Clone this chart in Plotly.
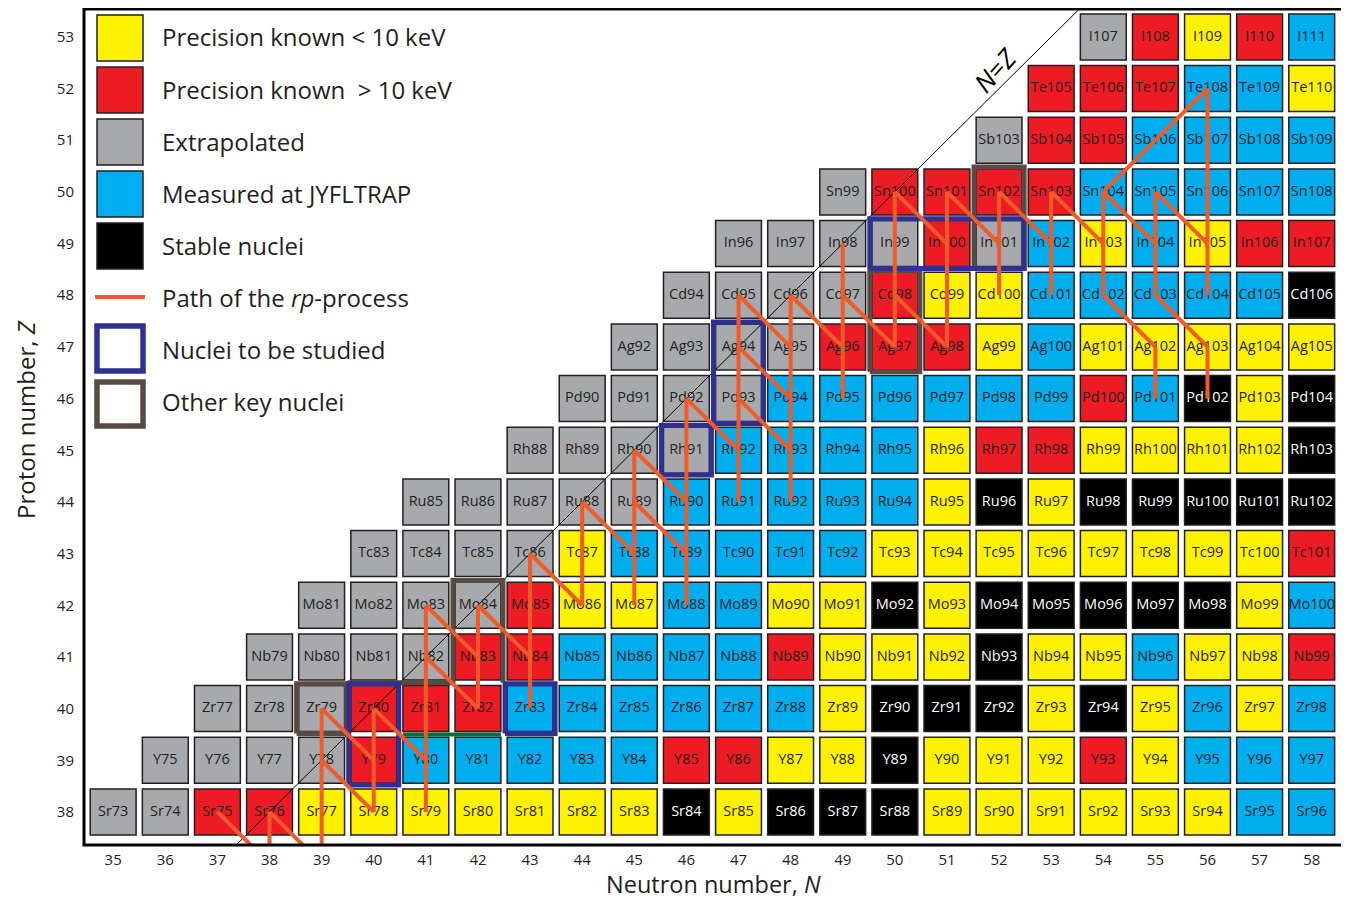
import plotly.graph_objects as go

# ---------------- data ----------------
ELEMENTS = ["Sr", "Y", "Zr", "Nb", "Mo", "Tc", "Ru", "Rh", "Pd", "Ag", "Cd", "In", "Sn", "Sb", "Te", "I"]
Z_VALUES = list(range(38, 54))
FIRST_N = [35, 36, 37, 38, 39, 40, 41, 43, 44, 45, 46, 47, 49, 52, 53, 54]
# Y = precision < 10 keV, R = precision > 10 keV, G = extrapolated, B = measured at JYFLTRAP, K = stable
STATUS = [
    "GGRRYYYYYYYKYKKKYYYYYYBB",   # Sr
    "GGGGRBBBBBRRYYKYYYRYBBB",    # Y
    "GGGRRRBBBBBBYKKKYKYBYB",     # Zr
    "GGGGRRBBBBRYYYKYYBYYR",      # Nb
    "GGGGRYYBBYYKYKKKKKYB",       # Mo
    "GGGGYBBBBBYYYYYYYYR",        # Tc
    "GGGGGBBBBBYKYKKKKK",         # Ru
    "GGGGBBBBYRRYYYYK",           # Rh
    "GGGGBBBBBBRBKYK",            # Pd
    "GGGGRRRYBYYYYY",             # Ag
    "GGGGRYYBBBBBK",              # Cd
    "GGGGRGBYBYRR",               # In
    "GRRRRBBBBB",                 # Sn
    "GRRBBBB",                    # Sb
    "RRRBBY",                     # Te
    "GRYRB",                      # I
]
N_TICKS = list(range(35, 59))
Z_TICKS = list(range(38, 54))

# rp-process path: segments (N1, Z1, N2, Z2)
RP_PATH = [
    (37, 38, 38, 37), (38, 37, 38, 38), (38, 38, 39, 37), (39, 37, 39, 40),
    (39, 39, 40, 38), (39, 40, 40, 39), (40, 38, 40, 40), (40, 40, 41, 39),
    (41, 38, 41, 42), (41, 42, 42, 41), (41, 41, 42, 40), (42, 40, 42, 42),
    (42, 42, 43, 41), (43, 40, 43, 43), (43, 43, 44, 42), (44, 42, 44, 44),
    (44, 44, 45, 43), (45, 42, 45, 45), (45, 44, 46, 43), (45, 45, 46, 44),
    (46, 42, 46, 46), (46, 46, 47, 45), (47, 44, 47, 48), (47, 47, 48, 46),
    (47, 46, 48, 45), (47, 48, 48, 47), (48, 44, 48, 48), (48, 48, 49, 47),
    (49, 46, 49, 49), (49, 48, 50, 47), (50, 47, 50, 50), (50, 48, 51, 47),
    (50, 50, 51, 49), (51, 47, 51, 50), (51, 50, 52, 49), (52, 48, 52, 50),
    (52, 50, 53, 49), (53, 48, 53, 50), (53, 50, 54, 49), (54, 48, 54, 50),
    (54, 50, 56, 52), (54, 50, 55, 49), (54, 48, 55, 47), (55, 46, 55, 47),
    (55, 48, 55, 50), (55, 50, 56, 49), (55, 48, 56, 47), (56, 46, 56, 47),
    (56, 48, 56, 52),
]
# nuclei to be studied (blue frames), groups of (N, Z)
STUDIED = [
    [(40, 39), (40, 40)],
    [(43, 40)],
    [(46, 45)],
    [(47, 46), (47, 47)],
    [(50, 49), (51, 49), (52, 49)],
]
# other key nuclei (brown frames)
KEY_BOXES = [
    [(39, 40)],
    [(50, 47), (50, 48)],
    [(52, 49), (52, 50)],
]
# brown outline around the Zr80-Mo84 region (cell-edge vertices, N/Z units)
KEY_OUTLINE_N = [39.5, 41.52, 41.52, 42.48, 42.48]
KEY_OUTLINE_Z = [40.5, 40.5, 42.48, 42.48, 40.5]
# green boundary between Y and Zr rows
GREEN_N = [40.56, 42.44]
GREEN_Z = [39.5, 39.5]

COLORS = {"Y": "#fff200", "R": "#ed1c24", "G": "#a7a9ac", "B": "#00aeef", "K": "#000000"}
LEGEND = [
    ("Y", "Precision known < 10 keV"),
    ("R", "Precision known \u00a0> 10 keV"),
    ("G", "Extrapolated"),
    ("B", "Measured at JYFLTRAP"),
    ("K", "Stable nuclei"),
]
ORANGE = "#f15a29"
NAVY = "#2e3192"
BROWN = "#594a42"
FONT = "Open Sans"

# ---------------- layout geometry ----------------
OFF = 8                      # page margin around the figure
W, H = 1336, 892
ML, MT = 76, 1
PW, PH = 1259, 836
MR, MB = W - ML - PW, H - MT - PH
XR = [34.44, 58.6]
YR = [37.36, 53.54]


def px(x):
    return (x - OFF - ML) / PW


def py(y):
    return 1 - (y - OFF - MT) / PH


fig = go.Figure()
shapes = []
annotations = []

# cells
hw, hh = 0.44, 0.445
lab_x, lab_y, lab_t = [], [], []
wlab_x, wlab_y, wlab_t = [], [], []
for el, z, n0, st in zip(ELEMENTS, Z_VALUES, FIRST_N, STATUS):
    for i, code in enumerate(st):
        n = n0 + i
        shapes.append(dict(type="rect", xref="x", yref="y", x0=n - hw, x1=n + hw, y0=z - hh, y1=z + hh,
                           fillcolor=COLORS[code], line=dict(color="#231f20", width=1.5), layer="below"))
        name = f"{el}{n + z}"
        if code == "K":
            wlab_x.append(n); wlab_y.append(z); wlab_t.append(name)
        else:
            lab_x.append(n); lab_y.append(z); lab_t.append(name)

# N=Z line
fig.add_trace(go.Scatter(x=[36, 55], y=[36, 55], mode="lines", line=dict(color="black", width=1),
                         hoverinfo="skip", showlegend=False))

fig.add_trace(go.Scatter(x=lab_x, y=lab_y, text=lab_t, mode="text",
                         textfont=dict(family=FONT, size=14.5, color="#231f20"), hoverinfo="skip", showlegend=False))
fig.add_trace(go.Scatter(x=wlab_x, y=wlab_y, text=wlab_t, mode="text",
                         textfont=dict(family=FONT, size=14.5, color="white"), hoverinfo="skip", showlegend=False))


def frame(cells, d=0.48):
    ns = [c[0] for c in cells]
    zs = [c[1] for c in cells]
    x0, x1, y0, y1 = min(ns) - d, max(ns) + d, min(zs) - d, max(zs) + d
    return [x0, x1, x1, x0, x0], [y0, y0, y1, y1, y0]


# brown frames
for cells in KEY_BOXES:
    xs, ys = frame(cells)
    fig.add_trace(go.Scatter(x=xs, y=ys, mode="lines", line=dict(color=BROWN, width=5),
                             hoverinfo="skip", showlegend=False))
fig.add_trace(go.Scatter(x=KEY_OUTLINE_N, y=KEY_OUTLINE_Z, mode="lines", line=dict(color=BROWN, width=5),
                         hoverinfo="skip", showlegend=False))
# blue frames
for cells in STUDIED:
    xs, ys = frame(cells)
    fig.add_trace(go.Scatter(x=xs, y=ys, mode="lines", line=dict(color=NAVY, width=5),
                             hoverinfo="skip", showlegend=False))
# green boundary
fig.add_trace(go.Scatter(x=GREEN_N, y=GREEN_Z, mode="lines", line=dict(color="#0b6b3a", width=4),
                         hoverinfo="skip", showlegend=False))

# rp-process path
px_, py_ = [], []
for n1, z1, n2, z2 in RP_PATH:
    px_ += [n1, n2, None]
    py_ += [z1, z2, None]
fig.add_trace(go.Scatter(x=px_, y=py_, mode="lines", line=dict(color=ORANGE, width=4),
                         hoverinfo="skip", showlegend=False))

# N=Z label
annotations.append(dict(x=px(995), y=py(70), xref="paper", yref="paper", text="<i>N</i>=<i>Z</i>",
                        showarrow=False, textangle=-48, xanchor="center", yanchor="middle",
                        font=dict(family=FONT, size=26, color="black")))

# legend (drawn manually inside the plot)
for i, (code, label) in enumerate(LEGEND):
    top = 15 + 52 * i
    shapes.append(dict(type="rect", xref="paper", yref="paper", x0=px(97), x1=px(143), y0=py(top + 46), y1=py(top),
                       fillcolor=COLORS[code], line=dict(color="#231f20", width=1.5)))
extra = ["Path of the <i>rp</i>-process", "Nuclei to be studied", "Other key nuclei"]
shapes.append(dict(type="line", xref="paper", yref="paper", x0=px(95), x1=px(145), y0=py(297), y1=py(297),
                   line=dict(color=ORANGE, width=4)))
shapes.append(dict(type="rect", xref="paper", yref="paper", x0=px(97), x1=px(143), y0=py(371), y1=py(326),
                   fillcolor="white", line=dict(color=NAVY, width=5.5)))
shapes.append(dict(type="rect", xref="paper", yref="paper", x0=px(97), x1=px(143), y0=py(426), y1=py(382),
                   fillcolor="white", line=dict(color=BROWN, width=5.5)))
labels = [l for _, l in LEGEND] + extra
for i, label in enumerate(labels):
    annotations.append(dict(x=px(160), y=py(37 + 52 * i), xref="paper", yref="paper", text=label,
                            showarrow=False, xanchor="left", yanchor="middle",
                            font=dict(family=FONT, size=24, color="#231f20")))

# frame
shapes.append(dict(type="rect", xref="paper", yref="paper", x0=0, x1=1, y0=0, y1=1,
                   line=dict(color="black", width=3), layer="above"))

# axis titles
annotations.append(dict(x=px(713), y=py(884), xref="paper", yref="paper", text="Neutron number, <i>N</i>",
                        showarrow=False, xanchor="center", yanchor="middle",
                        font=dict(family=FONT, size=23.5, color="#231f20")))
annotations.append(dict(x=px(25), y=py(420), xref="paper", yref="paper", text="Proton number, <i>Z</i>",
                        showarrow=False, textangle=-90, xanchor="center", yanchor="middle",
                        font=dict(family=FONT, size=24, color="#231f20")))

fig.update_layout(
    width=W, height=H, margin=dict(l=ML, r=MR, t=MT, b=MB),
    paper_bgcolor="white", plot_bgcolor="white",
    shapes=shapes, annotations=annotations, showlegend=False,
    xaxis=dict(range=XR, tickvals=N_TICKS, ticktext=[str(v) for v in N_TICKS], showgrid=False, zeroline=False,
               ticks="", showline=False, ticklabelstandoff=4,
               tickfont=dict(family=FONT, size=15, color="#231f20"), fixedrange=True),
    yaxis=dict(range=YR, tickvals=Z_TICKS, ticktext=[str(v) for v in Z_TICKS], showgrid=False, zeroline=False,
               ticks="", showline=False, ticklabelstandoff=9,
               tickfont=dict(family=FONT, size=15, color="#231f20"), fixedrange=True),
)

fig.write_html("out.html")
